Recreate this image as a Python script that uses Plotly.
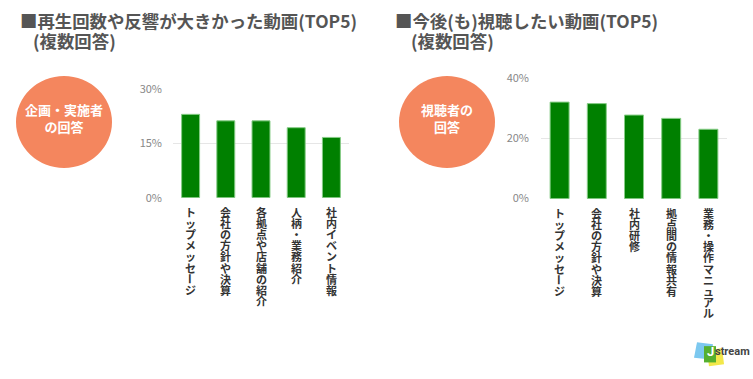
import plotly.graph_objects as go

W, H = 753, 379

# ---- data ----
left_categories = ["トップメッセージ", "会社の方針や決算", "各拠点や店舗の紹介", "人柄・業務紹介", "社内イベント情報"]
left_values = [23.1, 21.3, 21.3, 19.4, 16.7]
left_ticks = [0, 15, 30]
left_tick_labels = ["0%", "15%", "30%"]

right_categories = ["トップメッセージ", "会社の方針や決算", "社内研修", "拠点間の情報共有", "業務・操作マニュアル"]
right_values = [32.0, 31.5, 27.7, 26.6, 23.0]
right_ticks = [0, 20, 40]
right_tick_labels = ["0%", "20%", "40%"]

left_title = "■再生回数や反響が大きかった動画(TOP5)"
right_title = "■今後(も)視聴したい動画(TOP5)"
subtitle = "(複数回答)"
left_badge = "企画・実施者<br>の回答"
right_badge = "視聴者の<br>回答"

FONT = "Noto Sans CJK JP"
GREEN = "#008000"
EDGE = "#86cc86"
SALMON = "#F4865E"


def px(x):
    return x / W


def py(y):
    return 1 - y / H


fig = go.Figure()
fig.add_trace(go.Bar(x=left_categories, y=left_values, xaxis="x", yaxis="y",
                     marker=dict(color=GREEN, line=dict(color=EDGE, width=1)),
                     hoverinfo="skip"))
fig.add_trace(go.Bar(x=right_categories, y=right_values, xaxis="x2", yaxis="y2",
                     marker=dict(color=GREEN, line=dict(color=EDGE, width=1)),
                     hoverinfo="skip"))

axis_common = dict(showgrid=True, gridcolor="#e6e6e6", gridwidth=1, zeroline=False,
                   showline=False, ticks="", tickfont=dict(family=FONT, size=11, color="#888888"),
                   fixedrange=True)

fig.update_layout(
    width=W, height=H,
    margin=dict(l=0, r=0, t=0, b=0),
    paper_bgcolor="white", plot_bgcolor="white",
    showlegend=False,
    bargap=0.49,
    font=dict(family=FONT),
    xaxis=dict(domain=[px(173), px(349)], anchor="y", showticklabels=False, showgrid=False,
               zeroline=False, showline=False, ticks="", fixedrange=True),
    yaxis=dict(domain=[py(197), py(84)], anchor="x", range=[0, 30],
               tickvals=left_ticks, ticktext=left_tick_labels, ticklabelstandoff=10, **axis_common),
    xaxis2=dict(domain=[px(541), px(727)], anchor="y2", showticklabels=False, showgrid=False,
                zeroline=False, showline=False, ticks="", fixedrange=True),
    yaxis2=dict(domain=[py(198), py(72)], anchor="x2", range=[0, 40],
                tickvals=right_ticks, ticktext=right_tick_labels, ticklabelstandoff=11, **axis_common),
)

annotations = []
shapes = []

# vertical (tategaki) category labels, one character per line
PITCH = 11.2
for cats, xr, yr in [(left_categories, "x", "y"), (right_categories, "x2", "y2")]:
    for cat in cats:
        for i, ch in enumerate(cat):
            annotations.append(dict(
                x=cat, y=0, xref=xr, yref=yr, text=ch, showarrow=False,
                xanchor="center", yanchor="middle",
                yshift=-(14 + i * PITCH),
                textangle=90 if ch == "ー" else 0,
                font=dict(family=FONT, size=11, color="#333333", weight="bold"),
            ))

# titles
title_font = dict(family=FONT, size=17.4, color="#555555", weight="bold")
annotations += [
    dict(x=px(18), y=py(12), xref="paper", yref="paper", text=left_title, showarrow=False,
         xanchor="left", yanchor="middle", font=title_font),
    dict(x=px(31), y=py(33), xref="paper", yref="paper", text=subtitle, showarrow=False,
         xanchor="left", yanchor="middle", font=title_font),
    dict(x=px(393), y=py(12), xref="paper", yref="paper", text=right_title, showarrow=False,
         xanchor="left", yanchor="middle", font=title_font),
    dict(x=px(409), y=py(33), xref="paper", yref="paper", text=subtitle, showarrow=False,
         xanchor="left", yanchor="middle", font=title_font),
]

# badges
for cx, cy, txt in [(64, 118, left_badge), (447, 118, right_badge)]:
    r = 48
    shapes.append(dict(type="circle", xref="paper", yref="paper",
                       x0=px(cx - r), x1=px(cx + r), y0=py(cy + r), y1=py(cy - r),
                       fillcolor=SALMON, line=dict(width=0), layer="below"))
    annotations.append(dict(x=px(cx), y=py(cy - 4), xref="paper", yref="paper", text=txt,
                            showarrow=False, xanchor="center", yanchor="middle",
                            font=dict(family=FONT, size=13, color="white", weight="bold")))

# logo
def poly(pts, color):
    d = "M " + " L ".join(f"{px(x)},{py(y)}" for x, y in pts) + " Z"
    return dict(type="path", xref="paper", yref="paper", path=d,
                fillcolor=color, line=dict(width=0))

shapes.append(poly([(697, 348), (713, 350), (711, 366), (694, 364)], "#7cc8ef"))
shapes.append(poly([(707, 357), (722, 354), (724, 371), (709, 373)], "#f3e84a"))
shapes.append(poly([(704, 352), (716, 352), (716, 369), (704, 369)], "#55b02e"))
annotations.append(dict(x=px(710), y=py(358), xref="paper", yref="paper", text="J",
                        showarrow=False, xanchor="center", yanchor="middle",
                        font=dict(family="Roboto", size=13, color="white", weight="bold")))
annotations.append(dict(x=px(713), y=py(358), xref="paper", yref="paper", text="stream",
                        showarrow=False, xanchor="left", yanchor="middle",
                        font=dict(family="Roboto", size=11, color="#444444", weight="bold")))

fig.update_layout(annotations=annotations, shapes=shapes)

fig.write_html("out.html",
               config={"displayModeBar": False},
               post_script="document.body.style.margin='0';document.body.style.overflow='hidden';")
